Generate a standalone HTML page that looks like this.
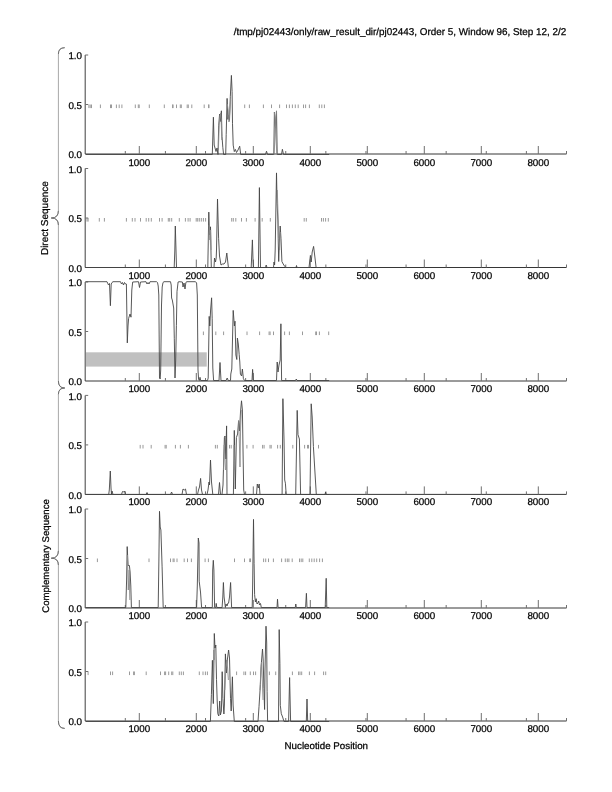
<!DOCTYPE html>
<html><head><meta charset="utf-8"><title>plot</title>
<style>html,body{margin:0;padding:0;background:#fff;}svg{display:block;will-change:transform;}
text{font-family:'Liberation Sans', Arial, Helvetica, sans-serif;font-size:10px;fill:#000;stroke:#000;stroke-width:0.25px;text-rendering:geometricPrecision;}
.n{font-size:9.8px;}</style></head>
<body><svg width="612" height="792" viewBox="0 0 612 792">
<path d="M88.9 104.5v3.6M90.2 104.5v3.6M91.5 104.5v3.6M100.4 104.5v3.6M110.5 104.5v3.6M111.5 104.5v3.6M116.4 104.5v3.6M119.2 104.5v3.6M121.9 104.5v3.6M135.3 104.5v3.6M138.3 104.5v3.6M139.2 104.5v3.6M149.3 104.5v3.6M164.3 104.5v3.6M172.5 104.5v3.6M173.1 104.5v3.6M176.5 104.5v3.6M180.3 104.5v3.6M181.3 104.5v3.6M187.2 104.5v3.6M188.3 104.5v3.6M191.8 104.5v3.6M204.2 104.5v3.6M208.5 104.5v3.6M209 104.5v3.6M244.7 104.5v3.6M249.4 104.5v3.6M263.4 104.5v3.6M271.5 104.5v3.6M279.6 104.5v3.6M286.5 104.5v3.6M289.4 104.5v3.6M292.4 104.5v3.6M295.3 104.5v3.6M298.2 104.5v3.6M303.5 104.5v3.6M305.6 104.5v3.6M309.4 104.5v3.6M319.3 104.5v3.6M321.8 104.5v3.6M324.4 104.5v3.6" stroke="#9a9a9a" stroke-width="1" fill="none"/>
<path d="M85.2 55V154" stroke="#505050" stroke-width="1.1" fill="none"/>
<path d="M85.2 154H566.5" stroke="#363636" stroke-width="1.0" fill="none"/>
<path d="M85.2 55h3M85.2 104.5h3M125.31 154v-3M165.42 154v-3M205.53 154v-3M245.63 154v-3M285.74 154v-3M325.85 154v-3M365.96 154v-3M406.07 154v-3M446.17 154v-3M486.28 154v-3M526.39 154v-3M566.5 154v-3M139.3 154v-8M196.3 154v-8M253.3 154v-8M310.3 154v-8M367.3 154v-8M424.3 154v-8M481.3 154v-8M538.3 154v-8" stroke="#707070" stroke-width="1" fill="none"/>
<polyline points="85.7,154.5 212.3,154.5 213.4,117.2 214.2,145 215,148 216,151.5 217,148 218,154.5 218.7,125.8 219.6,114 220.3,121.5 221.4,110.8 222,136.5 222.8,147.3 223.6,154.5 225.7,154.5 226.2,134.4 227.1,98.4 227.9,119.4 228.6,115.1 229.5,120.4 230.3,96.8 231.4,75.4 232.1,91.5 232.5,123.7 233.2,145.1 234.3,151.6 235.4,149.4 236.5,152.5 238,150 239.7,146.2 240.7,154.5 265.5,154.5 266.5,151.2 267.5,154.5 273.8,154.5 274.4,112.2 275.5,127.7 276.5,110.9 277.2,154.5 281.5,154.5 282.4,149.3 283.5,154.5 329.2,154.5" fill="none" stroke="#454545" stroke-width="0.9" stroke-linejoin="round"/>
<polyline points="274.4,112.2 275.5,127.7 276.6,150 276.9,154.5" fill="none" stroke="#8a8a8a" stroke-width="0.9" stroke-linejoin="round"/>
<polyline points="274,154.5 274.3,150 275.5,127.7 276.5,110.9" fill="none" stroke="#8a8a8a" stroke-width="0.9" stroke-linejoin="round"/>
<polyline points="218.4,150 219.2,124 220,115 220.7,113 221.3,125 221.8,140" fill="none" stroke="#8a8a8a" stroke-width="0.9" stroke-linejoin="round"/>
<polyline points="227.3,104 228.2,110 229,122 229.8,112 230.6,100" fill="none" stroke="#8a8a8a" stroke-width="0.9" stroke-linejoin="round"/>
<text transform="translate(82 59.2)" class="n" text-anchor="end">1.0</text>
<text transform="translate(82 108.7)" class="n" text-anchor="end">0.5</text>
<text transform="translate(82 158.2)" class="n" text-anchor="end">0.0</text>
<text transform="translate(139.3 165.8)" class="n" text-anchor="middle">1000</text>
<text transform="translate(196.3 165.8)" class="n" text-anchor="middle">2000</text>
<text transform="translate(253.3 165.8)" class="n" text-anchor="middle">3000</text>
<text transform="translate(310.3 165.8)" class="n" text-anchor="middle">4000</text>
<text transform="translate(367.3 165.8)" class="n" text-anchor="middle">5000</text>
<text transform="translate(424.3 165.8)" class="n" text-anchor="middle">6000</text>
<text transform="translate(481.3 165.8)" class="n" text-anchor="middle">7000</text>
<text transform="translate(538.3 165.8)" class="n" text-anchor="middle">8000</text>
<path d="M87 218v3.6M88.1 218v3.6M99.3 218v3.6M104.4 218v3.6M126.4 218v3.6M132.3 218v3.6M135 218v3.6M140.5 218v3.6M146.2 218v3.6M148.7 218v3.6M151.3 218v3.6M159.5 218v3.6M162.1 218v3.6M168.3 218v3.6M169.7 218v3.6M171.7 218v3.6M179.3 218v3.6M185.4 218v3.6M188.1 218v3.6M190.1 218v3.6M196.2 218v3.6M197.7 218v3.6M199.3 218v3.6M201.3 218v3.6M203.4 218v3.6M205.6 218v3.6M231.7 218v3.6M233.3 218v3.6M235.8 218v3.6M241.5 218v3.6M246.4 218v3.6M255.1 218v3.6M262.2 218v3.6M270.3 218v3.6M304.2 218v3.6M306.3 218v3.6M321.5 218v3.6M323.4 218v3.6M325.6 218v3.6M328.3 218v3.6" stroke="#9a9a9a" stroke-width="1" fill="none"/>
<path d="M85.2 168.5V267.5" stroke="#505050" stroke-width="1.1" fill="none"/>
<path d="M85.2 267.5H566.5" stroke="#363636" stroke-width="1.0" fill="none"/>
<path d="M85.2 168.5h3M85.2 218h3M125.31 267.5v-3M165.42 267.5v-3M205.53 267.5v-3M245.63 267.5v-3M285.74 267.5v-3M325.85 267.5v-3M365.96 267.5v-3M406.07 267.5v-3M446.17 267.5v-3M486.28 267.5v-3M526.39 267.5v-3M566.5 267.5v-3M139.3 267.5v-8M196.3 267.5v-8M253.3 267.5v-8M310.3 267.5v-8M367.3 267.5v-8M424.3 267.5v-8M481.3 267.5v-8M538.3 267.5v-8" stroke="#707070" stroke-width="1" fill="none"/>
<polyline points="85.7,267.5 174.2,267.5 174.8,251 175.3,226 176,250 176.5,267.5 207.8,267.5 208.8,212.1 209.5,235 210.5,226.8 211.3,267.5 214,267.5 214.5,258 215.5,262 216.2,258 216.5,250 217.5,199 218.6,238.3 219.5,256 221,265 222.5,264 224,264 225.5,262 226.8,253 228.4,267.5 251.2,267.5 252.4,239.9 253,259.5 253.5,267.5 258.4,267.5 259.4,187.6 260.5,267.5 265.5,267.5 266.2,265 267,267.5 273.5,267.5 274,262 274.6,265 275.2,250 276.5,172.9 277.1,203.4 277.9,221 278.2,238.7 278.7,261.5 279.3,244 280.2,226 281,238.7 281.9,261.5 283.2,264 284.5,266 286,267.5 296,267.5 296.5,265.5 297,267.5 309,267.5 310.4,255.4 311.2,262 312.2,252 313.6,246.4 315,258 316.1,267.5 329.2,267.5" fill="none" stroke="#454545" stroke-width="0.9" stroke-linejoin="round"/>
<polyline points="208.5,245 209.3,225 209.9,240 210.6,230 211.1,250" fill="none" stroke="#8a8a8a" stroke-width="0.9" stroke-linejoin="round"/>
<polyline points="277.3,190 278,214 278.9,240 279.6,250 280.3,232" fill="none" stroke="#8a8a8a" stroke-width="0.9" stroke-linejoin="round"/>
<text transform="translate(82 172.7)" class="n" text-anchor="end">1.0</text>
<text transform="translate(82 222.2)" class="n" text-anchor="end">0.5</text>
<text transform="translate(82 271.7)" class="n" text-anchor="end">0.0</text>
<text transform="translate(139.3 279.03)" class="n" text-anchor="middle">1000</text>
<text transform="translate(196.3 279.03)" class="n" text-anchor="middle">2000</text>
<text transform="translate(253.3 279.03)" class="n" text-anchor="middle">3000</text>
<text transform="translate(310.3 279.03)" class="n" text-anchor="middle">4000</text>
<text transform="translate(367.3 279.03)" class="n" text-anchor="middle">5000</text>
<text transform="translate(424.3 279.03)" class="n" text-anchor="middle">6000</text>
<text transform="translate(481.3 279.03)" class="n" text-anchor="middle">7000</text>
<text transform="translate(538.3 279.03)" class="n" text-anchor="middle">8000</text>
<path d="M203.4 331.5v3.6M215.8 331.5v3.6M223.6 331.5v3.6M247 331.5v3.6M259.6 331.5v3.6M269.1 331.5v3.6M270.1 331.5v3.6M273.5 331.5v3.6M284.6 331.5v3.6M289.4 331.5v3.6M302.5 331.5v3.6M315.7 331.5v3.6M316.5 331.5v3.6M319.4 331.5v3.6M328.7 331.5v3.6" stroke="#9a9a9a" stroke-width="1" fill="none"/>
<rect x="86" y="352.3" width="120.75" height="14.3" fill="#c0c0c0"/>
<path d="M85.2 282V381" stroke="#505050" stroke-width="1.1" fill="none"/>
<path d="M85.2 381H566.5" stroke="#363636" stroke-width="1.0" fill="none"/>
<path d="M85.2 282h3M85.2 331.5h3M125.31 381v-3M165.42 381v-3M205.53 381v-3M245.63 381v-3M285.74 381v-3M325.85 381v-3M365.96 381v-3M406.07 381v-3M446.17 381v-3M486.28 381v-3M526.39 381v-3M566.5 381v-3M139.3 381v-8M196.3 381v-8M253.3 381v-8M310.3 381v-8M367.3 381v-8M424.3 381v-8M481.3 381v-8M538.3 381v-8" stroke="#707070" stroke-width="1" fill="none"/>
<polyline points="85.5,281.7 107,281.7 108.5,285 109.5,283.5 110.4,305.7 111.2,284 112,282.5 113,281.7 120.5,281.7 121.5,284 122.5,282.5 123.5,285 124.5,282.5 125.5,284 126.4,284 127.3,342.9 128,326 128.6,318.5 130,314 131,317.2 131.8,290 132.7,282 138.5,281.7 139.5,287.5 140.5,282 146,281.7 147,284 148,282.5 149,284 150,281.7 156.5,281.7 157.5,282.5 158.2,286 158.8,295 159.5,378 160.2,379 160.7,370 161.5,305 162.2,287 163,282.5 164,281.7 170.5,281.7 171.2,285 171.6,298 172.3,300 173.7,308 174.3,338.8 175,378 175.7,360 176.4,325.3 177,291.5 178.1,282 179,281.7 182.4,282 183,287 184,283 185,289 185.8,283 186.5,281.7 195.5,281.7 196.6,283 197.3,295 198,370 198.6,379.4 199.3,380.5 200,377.3 200.7,380.5 207.5,380.5 208.2,378 209.2,316.4 209.8,326 210.6,310 211.6,297.8 212.2,318.8 212.8,368 213.6,380.5 219,380.5 220,362.5 221,380.5 226,380.5 227.2,378 228.2,380.5 230.5,380.5 230.8,374 231.8,369 233.2,310.4 234.4,326 235,321.2 235.9,355 236.8,359.5 237.4,338 238.3,344 239.2,354.7 239.8,362 240.4,374 241.6,376 242.4,369 243.4,378.7 244.5,380.5 252,380.5 252.6,369.4 253.3,380.5 276.5,380.5 277.2,362 278,372 279,365 280.2,360 280.9,323.8 281.6,380.5 295.5,380.5 296.3,379 297,380.5 329.2,380.5" fill="none" stroke="#454545" stroke-width="0.9" stroke-linejoin="round"/>
<text transform="translate(82 286.2)" class="n" text-anchor="end">1.0</text>
<text transform="translate(82 335.7)" class="n" text-anchor="end">0.5</text>
<text transform="translate(82 385.2)" class="n" text-anchor="end">0.0</text>
<text transform="translate(139.3 392.26)" class="n" text-anchor="middle">1000</text>
<text transform="translate(196.3 392.26)" class="n" text-anchor="middle">2000</text>
<text transform="translate(253.3 392.26)" class="n" text-anchor="middle">3000</text>
<text transform="translate(310.3 392.26)" class="n" text-anchor="middle">4000</text>
<text transform="translate(367.3 392.26)" class="n" text-anchor="middle">5000</text>
<text transform="translate(424.3 392.26)" class="n" text-anchor="middle">6000</text>
<text transform="translate(481.3 392.26)" class="n" text-anchor="middle">7000</text>
<text transform="translate(538.3 392.26)" class="n" text-anchor="middle">8000</text>
<path d="M140.2 444.9v3.6M143 444.9v3.6M151.2 444.9v3.6M165.1 444.9v3.6M166.2 444.9v3.6M175.4 444.9v3.6M180.4 444.9v3.6M188.4 444.9v3.6M215.4 444.9v3.6M217.3 444.9v3.6M229.5 444.9v3.6M231.2 444.9v3.6M246.9 444.9v3.6M253.1 444.9v3.6M262.6 444.9v3.6M264.1 444.9v3.6M270 444.9v3.6M271.2 444.9v3.6M277.6 444.9v3.6M280.3 444.9v3.6M292.8 444.9v3.6M304.6 444.9v3.6M307.5 444.9v3.6M308.5 444.9v3.6M318.5 444.9v3.6" stroke="#9a9a9a" stroke-width="1" fill="none"/>
<path d="M85.2 395.4V494.4" stroke="#505050" stroke-width="1.1" fill="none"/>
<path d="M85.2 494.4H566.5" stroke="#363636" stroke-width="1.0" fill="none"/>
<path d="M85.2 395.4h3M85.2 444.9h3M125.31 494.4v-3M165.42 494.4v-3M205.53 494.4v-3M245.63 494.4v-3M285.74 494.4v-3M325.85 494.4v-3M365.96 494.4v-3M406.07 494.4v-3M446.17 494.4v-3M486.28 494.4v-3M526.39 494.4v-3M566.5 494.4v-3M139.3 494.4v-8M196.3 494.4v-8M253.3 494.4v-8M310.3 494.4v-8M367.3 494.4v-8M424.3 494.4v-8M481.3 494.4v-8M538.3 494.4v-8" stroke="#707070" stroke-width="1" fill="none"/>
<polyline points="85.7,494.5 108.7,494.5 109.3,490 110.3,471 111,488 111.5,494.5 112,491 113,494.5 121.5,494.5 122.5,491.5 123.5,492 124.5,491 125.5,494.5 146,494.5 147,492.5 148,494.5 170.5,494.5 171.6,492 172.5,494.5 182,494.5 183,489 184.3,490 185.5,489 186.5,494.5 197.5,494.5 198.5,490 199.5,487 200.6,478.4 201.5,490 202.5,494.5 207,494.5 208,490 209,482 209.5,485 210.5,460 211.5,482 212.8,494.5 218.5,494.5 219.5,482.5 220.5,494.5 222,494.5 223,485 224,450 224.4,437.5 225,436 225.7,459 226.6,425.9 227,494.5 233.4,494.5 234.3,430.4 235.3,489 236.4,437.5 237.6,434 238.6,420.7 239.5,431 240.5,412 241.5,400.8 242.4,410 243,449 243.7,490 244.5,494.5 256.5,494.5 257.3,484 258.3,488 259.2,484 260,494.5 282.1,494.5 282.9,398.7 284,439 284.7,480 285.4,483.2 286.2,494.5 295.7,494.5 297.2,410.4 298,434.7 299.4,439 300.6,494.5 310,494.5 311.2,403.8 312.2,417 313.4,446.5 316.3,494.5 325,494.5 325.6,492 326.2,494.5 329.2,494.5" fill="none" stroke="#454545" stroke-width="0.9" stroke-linejoin="round"/>
<polyline points="223.6,470 224.3,445 225,455 225.5,470" fill="none" stroke="#8a8a8a" stroke-width="0.9" stroke-linejoin="round"/>
<polyline points="238.6,420.7 239.3,440 240,467 240.6,428 241.3,410" fill="none" stroke="#8a8a8a" stroke-width="0.9" stroke-linejoin="round"/>
<polyline points="234,445 234.6,470 235,460" fill="none" stroke="#8a8a8a" stroke-width="0.9" stroke-linejoin="round"/>
<text transform="translate(82 399.6)" class="n" text-anchor="end">1.0</text>
<text transform="translate(82 449.1)" class="n" text-anchor="end">0.5</text>
<text transform="translate(82 498.6)" class="n" text-anchor="end">0.0</text>
<text transform="translate(139.3 505.49)" class="n" text-anchor="middle">1000</text>
<text transform="translate(196.3 505.49)" class="n" text-anchor="middle">2000</text>
<text transform="translate(253.3 505.49)" class="n" text-anchor="middle">3000</text>
<text transform="translate(310.3 505.49)" class="n" text-anchor="middle">4000</text>
<text transform="translate(367.3 505.49)" class="n" text-anchor="middle">5000</text>
<text transform="translate(424.3 505.49)" class="n" text-anchor="middle">6000</text>
<text transform="translate(481.3 505.49)" class="n" text-anchor="middle">7000</text>
<text transform="translate(538.3 505.49)" class="n" text-anchor="middle">8000</text>
<path d="M97.4 558.5v3.6M149 558.5v3.6M170.5 558.5v3.6M173.1 558.5v3.6M174.1 558.5v3.6M177 558.5v3.6M184.2 558.5v3.6M187.5 558.5v3.6M191.4 558.5v3.6M205.1 558.5v3.6M208.4 558.5v3.6M234.5 558.5v3.6M244.5 558.5v3.6M249.7 558.5v3.6M250.5 558.5v3.6M263.6 558.5v3.6M265.7 558.5v3.6M268.5 558.5v3.6M273.4 558.5v3.6M281.6 558.5v3.6M285.3 558.5v3.6M287.3 558.5v3.6M288.9 558.5v3.6M292.2 558.5v3.6M299.5 558.5v3.6M301.2 558.5v3.6M302.8 558.5v3.6M309.3 558.5v3.6M311.8 558.5v3.6M314.2 558.5v3.6M316.7 558.5v3.6M319.6 558.5v3.6M322.4 558.5v3.6" stroke="#9a9a9a" stroke-width="1" fill="none"/>
<path d="M85.2 509V608" stroke="#505050" stroke-width="1.1" fill="none"/>
<path d="M85.2 608H566.5" stroke="#363636" stroke-width="1.0" fill="none"/>
<path d="M85.2 509h3M85.2 558.5h3M125.31 608v-3M165.42 608v-3M205.53 608v-3M245.63 608v-3M285.74 608v-3M325.85 608v-3M365.96 608v-3M406.07 608v-3M446.17 608v-3M486.28 608v-3M526.39 608v-3M566.5 608v-3M139.3 608v-8M196.3 608v-8M253.3 608v-8M310.3 608v-8M367.3 608v-8M424.3 608v-8M481.3 608v-8M538.3 608v-8" stroke="#707070" stroke-width="1" fill="none"/>
<polyline points="85.7,607.5 125.8,607.5 126.6,580 127.2,546.6 128.1,565.5 129.4,565.5 130.1,572 130.8,586 131.4,607.5 158.2,607.5 158.9,560 159.5,511.3 160.2,527 160.9,530 162.1,566.8 163.2,607.5 196.6,607.5 197.3,586 198.3,538 199,543 199.2,581.2 200.5,592 201.6,607.5 212.3,607.5 212.7,570 213.3,560.3 213.9,570 214.6,607.5 215.8,607.5 216.2,603.4 216.8,607.5 222.1,607.5 222.8,597 223.4,582.5 224.1,597 225.4,607.5 226,604 227,606 228,603 228.6,603 229.5,597 230.6,582.5 231.6,607.5 252.2,607.5 252.6,588 253.5,519.4 254.1,563.6 254.6,594.6 255.4,602 256.2,598.7 257,604 258,603 258.7,601 259.5,605 260.5,603.5 261.3,607.5 277,607.5 277.5,599.2 278.1,607.5 295.3,607.5 295.8,604 296.3,607.5 305.6,607.5 306.4,593.3 307,607.5 325.2,607.5 326.2,578.3 326.8,607.5 329.2,607.5" fill="none" stroke="#454545" stroke-width="0.9" stroke-linejoin="round"/>
<polyline points="127.4,555 128.3,590 129.2,570 129.8,600" fill="none" stroke="#8a8a8a" stroke-width="0.9" stroke-linejoin="round"/>
<text transform="translate(82 513.2)" class="n" text-anchor="end">1.0</text>
<text transform="translate(82 562.7)" class="n" text-anchor="end">0.5</text>
<text transform="translate(82 612.2)" class="n" text-anchor="end">0.0</text>
<text transform="translate(139.3 618.72)" class="n" text-anchor="middle">1000</text>
<text transform="translate(196.3 618.72)" class="n" text-anchor="middle">2000</text>
<text transform="translate(253.3 618.72)" class="n" text-anchor="middle">3000</text>
<text transform="translate(310.3 618.72)" class="n" text-anchor="middle">4000</text>
<text transform="translate(367.3 618.72)" class="n" text-anchor="middle">5000</text>
<text transform="translate(424.3 618.72)" class="n" text-anchor="middle">6000</text>
<text transform="translate(481.3 618.72)" class="n" text-anchor="middle">7000</text>
<text transform="translate(538.3 618.72)" class="n" text-anchor="middle">8000</text>
<path d="M88.1 671.5v3.6M110.5 671.5v3.6M112.6 671.5v3.6M129.5 671.5v3.6M133.6 671.5v3.6M134.4 671.5v3.6M146.2 671.5v3.6M160.5 671.5v3.6M164.6 671.5v3.6M165.6 671.5v3.6M168.7 671.5v3.6M171.7 671.5v3.6M172.8 671.5v3.6M179.3 671.5v3.6M181.3 671.5v3.6M183.4 671.5v3.6M199.3 671.5v3.6M203 671.5v3.6M205.4 671.5v3.6M207.4 671.5v3.6M236.6 671.5v3.6M243.9 671.5v3.6M245.6 671.5v3.6M250.3 671.5v3.6M253.5 671.5v3.6M255.6 671.5v3.6M269.4 671.5v3.6M275.7 671.5v3.6M292.4 671.5v3.6M298.6 671.5v3.6M300 671.5v3.6M301.7 671.5v3.6M309.4 671.5v3.6M314.6 671.5v3.6M323.6 671.5v3.6M325.7 671.5v3.6" stroke="#9a9a9a" stroke-width="1" fill="none"/>
<path d="M85.2 622V721" stroke="#505050" stroke-width="1.1" fill="none"/>
<path d="M85.2 721H566.5" stroke="#363636" stroke-width="1.0" fill="none"/>
<path d="M85.2 622h3M85.2 671.5h3M125.31 721v-3M165.42 721v-3M205.53 721v-3M245.63 721v-3M285.74 721v-3M325.85 721v-3M365.96 721v-3M406.07 721v-3M446.17 721v-3M486.28 721v-3M526.39 721v-3M566.5 721v-3M139.3 721v-8M196.3 721v-8M253.3 721v-8M310.3 721v-8M367.3 721v-8M424.3 721v-8M481.3 721v-8M538.3 721v-8" stroke="#707070" stroke-width="1" fill="none"/>
<polyline points="85.7,721.5 210.4,721.5 211.4,694.7 212.4,660.3 213.3,703.6 214.3,633.5 215,648 215.8,645 216.5,679.4 217.2,701 217.8,713.8 218.8,716 219.7,701 220.4,715 221.4,711 222.2,671.7 222.9,698.5 223.9,714 224.4,705 225.4,653.9 226.4,673 227.3,660 228.6,650 229.5,658 230.5,698.5 231.2,711 232.4,676.8 233.1,705 234.3,721.5 258,721.5 259,706.7 260.4,684.5 261.1,666.4 262.5,649 263.2,660 263.9,688.7 264.6,709.5 265,670 266,626.2 266.7,643 267.1,691.4 267.6,721.5 278.5,721.5 279.2,629.6 279.9,663.7 280.3,705.3 281.3,713.7 282.6,717 284,721.5 288.6,721.5 289.6,677.6 290.6,721.5 306.3,721.5 307,699 307.7,721.5 329.2,721.5" fill="none" stroke="#454545" stroke-width="0.9" stroke-linejoin="round"/>
<polyline points="213,690 213.8,650 214.6,660" fill="none" stroke="#8a8a8a" stroke-width="0.9" stroke-linejoin="round"/>
<polyline points="224.8,690 225.8,670 226.6,660 227.6,668 228.4,680" fill="none" stroke="#8a8a8a" stroke-width="0.9" stroke-linejoin="round"/>
<polyline points="260,690 260.8,672 261.6,662 262.3,680 263,700" fill="none" stroke="#8a8a8a" stroke-width="0.9" stroke-linejoin="round"/>
<text transform="translate(82 626.2)" class="n" text-anchor="end">1.0</text>
<text transform="translate(82 675.7)" class="n" text-anchor="end">0.5</text>
<text transform="translate(82 725.2)" class="n" text-anchor="end">0.0</text>
<text transform="translate(139.3 731.95)" class="n" text-anchor="middle">1000</text>
<text transform="translate(196.3 731.95)" class="n" text-anchor="middle">2000</text>
<text transform="translate(253.3 731.95)" class="n" text-anchor="middle">3000</text>
<text transform="translate(310.3 731.95)" class="n" text-anchor="middle">4000</text>
<text transform="translate(367.3 731.95)" class="n" text-anchor="middle">5000</text>
<text transform="translate(424.3 731.95)" class="n" text-anchor="middle">6000</text>
<text transform="translate(481.3 731.95)" class="n" text-anchor="middle">7000</text>
<text transform="translate(538.3 731.95)" class="n" text-anchor="middle">8000</text>
<path d="M64.7 47.7 Q58.4 47.7 58.4 54 V210.7 Q58.4 218 51.3 218 Q58.4 218 58.4 225 V381 Q58.4 388 64.7 388 Q58.4 388 58.4 394.4 V550.7 Q58.4 558.2 51.3 558.2 Q58.4 558.2 58.4 565 V721 Q58.4 728.4 64.7 728.4" stroke="#a8a8a8" stroke-width="1" fill="none"/>
<path d="M64.7 47.7 Q58.4 47.7 58.4 54 M58.4 210.7 Q58.4 218 51.3 218 Q58.4 218 58.4 225 M58.4 381 Q58.4 388 64.7 388 Q58.4 388 58.4 394.4 M58.4 550.7 Q58.4 558.2 51.3 558.2 Q58.4 558.2 58.4 565 M58.4 721 Q58.4 728.4 64.7 728.4" stroke="#707070" stroke-width="1" fill="none"/>
<text transform="translate(48 218.1) rotate(-90)" text-anchor="middle">Direct Sequence</text>
<text transform="translate(48.6 556) rotate(-90)" text-anchor="middle" style="font-size:9.6px">Complementary Sequence</text>
<text x="326.3" y="748.9" text-anchor="middle" style="font-size:9.75px">Nucleotide Position</text>
<text x="566.3" y="34.6" text-anchor="end" style="font-size:9.9px">/tmp/pj02443/only/raw_result_dir/pj02443, Order 5, Window 96, Step 12, 2/2</text>
</svg></body></html>
